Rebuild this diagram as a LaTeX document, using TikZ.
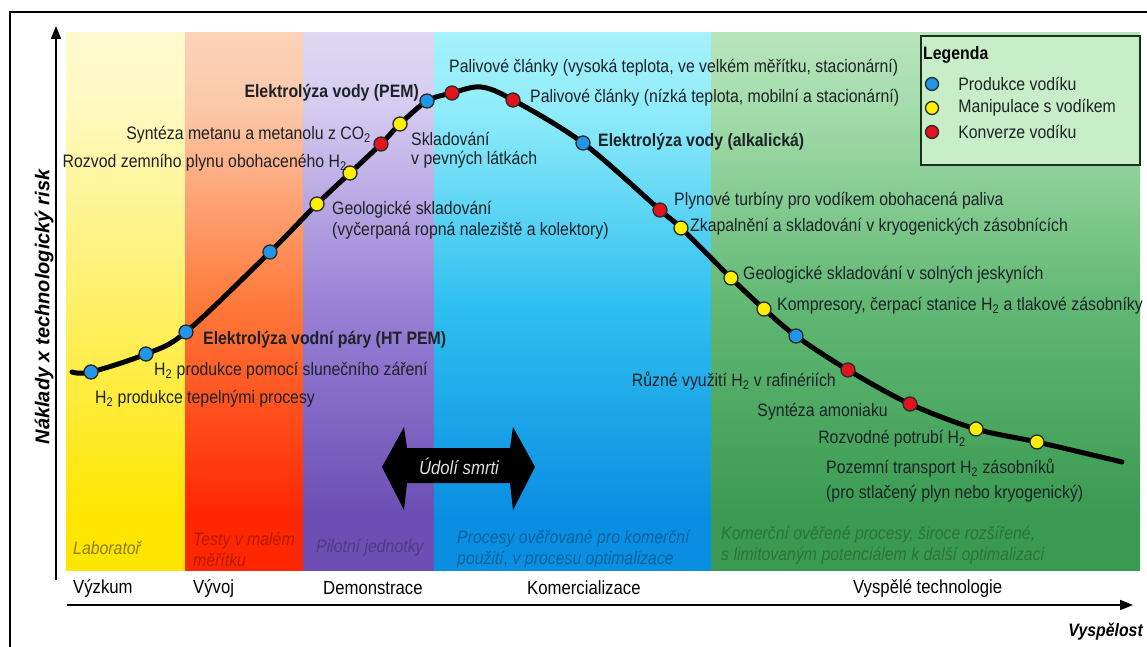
\documentclass[tikz,border=0pt]{standalone}
\usepackage{fontspec}
\setmainfont{Liberation Sans}[FakeStretch=0.88]
\newfontfamily\osafont{Liberation Sans}
\usepackage{tikz}
\usetikzlibrary{positioning,calc,arrows.meta}

\definecolor{txt}{HTML}{1C2226}
\definecolor{tmava}{HTML}{2A2A2A}
\definecolor{modra}{HTML}{2196E8}
\definecolor{zluta}{HTML}{FFF000}
\definecolor{cervena}{HTML}{E0141E}
\definecolor{legpozadi}{HTML}{C8EEC8}
\definecolor{legramec}{HTML}{1A301A}
% pasma (dole -> nahore)
\definecolor{zlA}{HTML}{FFE600}\definecolor{zlB}{HTML}{FFF06A}\definecolor{zlC}{HTML}{FFF9C0}\definecolor{zlD}{HTML}{FFFDE6}
\definecolor{orA}{HTML}{FF2600}\definecolor{orB}{HTML}{FF7A3C}\definecolor{orC}{HTML}{FCC8A8}\definecolor{orD}{HTML}{FCE2D0}
\definecolor{fiA}{HTML}{6C4EB4}\definecolor{fiB}{HTML}{9A82D6}\definecolor{fiC}{HTML}{D4CBF0}\definecolor{fiD}{HTML}{EEEAF9}
\definecolor{moA}{HTML}{0A8EE2}\definecolor{moB}{HTML}{30C0F0}\definecolor{moC}{HTML}{90ECFA}\definecolor{moD}{HTML}{C4FAFA}
\definecolor{zeA}{HTML}{3A9A52}\definecolor{zeB}{HTML}{62B874}\definecolor{zeC}{HTML}{A4DCAC}\definecolor{zeD}{HTML}{D4F2D4}
\pgfdeclareverticalshading{pasmoZl}{100bp}{color(0bp)=(zlA); color(30bp)=(zlA); color(50bp)=(zlB); color(68bp)=(zlC); color(85bp)=(zlD); color(100bp)=(zlD)}
\pgfdeclareverticalshading{pasmoOr}{100bp}{color(0bp)=(orA); color(30bp)=(orA); color(50bp)=(orB); color(68bp)=(orC); color(85bp)=(orD); color(100bp)=(orD)}
\pgfdeclareverticalshading{pasmoFi}{100bp}{color(0bp)=(fiA); color(30bp)=(fiA); color(50bp)=(fiB); color(68bp)=(fiC); color(85bp)=(fiD); color(100bp)=(fiD)}
\pgfdeclareverticalshading{pasmoMo}{100bp}{color(0bp)=(moA); color(30bp)=(moA); color(50bp)=(moB); color(68bp)=(moC); color(85bp)=(moD); color(100bp)=(moD)}
\pgfdeclareverticalshading{pasmoZe}{100bp}{color(0bp)=(zeA); color(30bp)=(zeA); color(50bp)=(zeB); color(68bp)=(zeC); color(85bp)=(zeD); color(100bp)=(zeD)}

\begin{document}
\begin{tikzpicture}[x=1pt, y=-1pt,
    every node/.style={font=\fontsize{18}{20}\selectfont, text=txt, inner sep=0pt},
    popis/.style={anchor=west, align=left},
    tucne/.style={anchor=west, font=\fontsize{18}{20}\selectfont\bfseries},
    faze/.style={anchor=west, font=\fontsize{19}{21}\selectfont, text=black},
    kurziva/.style={anchor=west, align=left, font=\fontsize{18}{21}\selectfont\itshape},
    tecka/.style={circle, draw=tmava, line width=1.3pt, minimum size=14pt},
    prod/.style={tecka, fill=modra},
    manip/.style={tecka, fill=zluta},
    konv/.style={tecka, fill=cervena},
    krivka/.style={line width=5pt, line cap=round},
    osa/.style={line width=2pt, -{Triangle[length=13pt, width=10pt]}}
]
\useasboundingbox (0,0) rectangle (1147,647);
\fill[white] (0,0) rectangle (1147,647);
\draw[line width=2pt] (10,660) -- (10,12) -- (1160,12);

% pasma vyspelosti
\shade[shading=pasmoZl] (66,33) rectangle (185,570);
\shade[shading=pasmoOr] (185,33) rectangle (303,570);
\shade[shading=pasmoFi] (303,33) rectangle (434,570);
\shade[shading=pasmoMo] (434,33) rectangle (711,570);
\shade[shading=pasmoZe] (711,33) rectangle (1140,570);

\node[kurziva, text=zlA!55!black] (lab) at (73,548) {Laboratoř};
\node[kurziva, text=orA!70!black] (testy) at (193,549) {Testy v malém\\měřítku};
\node[kurziva, text=fiA!75!black] (pilot) at (316,548) {Pilotní jednotky};
\node[kurziva, text=moA!70!black] (procesy) at (457,549) {Procesy ověřované pro komerční\\použití, v procesu optimalizace};
\node[kurziva, text=zeA!75!black] (komer) at (721,545) {Komerční ověřené procesy, široce rozšířené,\\s limitovaným potenciálem k další optimalizaci};

% osy
\coordinate (y0) at (56,580);
\coordinate (y1) at (56,26);
\coordinate (x0) at (67,605);
\coordinate (x1) at (1133,605);
\draw[osa] (y0) -- (y1);
\draw[osa] (x0) -- (x1);
\node[rotate=90, font=\osafont\fontsize{20}{22}\selectfont\bfseries\itshape, text=black] (osay) at (44,307) {Náklady x technologický risk};
\node[anchor=east, font=\fontsize{18}{20}\selectfont\bfseries\itshape, text=black] (osax) at (1143,632) {Vyspělost};

\node[faze] (vyzkum) at (73,588) {Výzkum};
\node[faze] (vyvoj) at (193,588) {Vývoj};
\node[faze] (demo) at (323,588) {Demonstrace};
\node[faze] (komerc) at (527,588) {Komercializace};
\node[faze] (vysp) at (853,588) {Vyspělé technologie};

% udoli smrti
\fill[black] (382,467) -- (404,427) -- (407,448) -- (510,448) -- (513,427) -- (535,467)
    -- (513,510) -- (510,483) -- (407,483) -- (404,510) -- cycle;
\node[font=\fontsize{19}{21}\selectfont\itshape, text=white!88!black] (udoli) at (459,466) {Údolí smrti};

% krivka
\foreach \n/\x/\y in {c0/72/372, b1/91/372, b2/146/354, b3/186/332, b4/270/252, y1/317/204,
    y2/350/173, r1/381/144, y3/400/124, b5/427/101, r2/452/93, vrchol/481/87, r3/513/100,
    b6/583/143, r4/660/210, y4/681/228, y5/731/278, y6/764/309, b7/796/336, r5/848/370,
    r6/910/404, y7/976/429, y8/1037/442, c1/1122/462}
    \coordinate (\n) at (\x,\y);
\draw[krivka] plot[smooth, tension=0.55] coordinates {(c0) (b1) (b2) (b3) (b4) (y1) (y2) (r1) (y3)
    (b5) (r2) (vrchol) (r3) (b6) (r4) (y4) (y5) (y6) (b7) (r5) (r6) (y7) (y8) (c1)};
\foreach \n in {b1,b2,b3,b4,b5,b6,b7} \node[prod] (t\n) at (\n) {};
\foreach \n in {y1,y2,y3,y4,y5,y6,y7,y8} \node[manip] (t\n) at (\n) {};
\foreach \n in {r1,r2,r3,r4,r5,r6} \node[konv] (t\n) at (\n) {};

% popisky
\node[popis] (pal1) at (449,68) {Palivové články (vysoká teplota, ve velkém měřítku, stacionární)};
\node[popis] (pal2) at (530,98) {Palivové články (nízká teplota, mobilní a stacionární)};
\node[tucne, anchor=east] (pem) at (419,93) {Elektrolýza vody (PEM)};
\node[tucne] (alk) at (598,142) {Elektrolýza vody (alkalická)};
\node[popis, font=\fontsize{18}{19.5}\selectfont] (skl) at (411,150) {Skladování\\v pevných látkách};
\node[popis, anchor=east] (synt) at (371,135) {Syntéza metanu a metanolu z CO\textsubscript{2}};
\node[popis, anchor=east] (rozv) at (347,163) {Rozvod zemního plynu obohaceného H\textsubscript{2}};
\node[popis, font=\fontsize{18}{21}\selectfont] (geo) at (332,220) {Geologické skladování\\(vyčerpaná ropná naleziště a kolektory)};
\node[tucne] (htpem) at (203,340) {Elektrolýza vodní páry (HT PEM)};
\node[popis] (slun) at (154,371) {H\textsubscript{2} produkce pomocí slunečního záření};
\node[popis] (tep) at (95,399) {H\textsubscript{2} produkce tepelnými procesy};
\node[popis] (turb) at (674,201) {Plynové turbíny pro vodíkem obohacená paliva};
\node[popis] (zkap) at (690,227) {Zkapalnění a skladování v kryogenických zásobnících};
\node[popis] (geo2) at (743,275) {Geologické skladování v solných jeskyních};
\node[popis] (komp) at (777,306) {Kompresory, čerpací stanice H\textsubscript{2} a tlakové zásobníky};
\node[popis, anchor=east] (rafi) at (836,381) {Různé využití H\textsubscript{2} v rafinériích};
\node[popis, anchor=east] (amon) at (888,412) {Syntéza amoniaku};
\node[popis, anchor=east] (potr) at (966,439) {Rozvodné potrubí H\textsubscript{2}};
\node[popis, font=\fontsize{18}{25}\selectfont] (poz) at (826,481) {Pozemní transport H\textsubscript{2} zásobníků\\(pro stlačený plyn nebo kryogenický)};

% legenda
\node[draw=legramec, line width=2pt, fill=legpozadi, minimum width=219pt, minimum height=129pt, anchor=north west] (legenda) at (920,35) {};
\node[anchor=west, font=\fontsize{18}{20}\selectfont\bfseries, text=black] (legtit) at (923,55) {Legenda};
\node[prod, minimum size=13pt] (lp) at (932,84) {};
\node[manip, minimum size=13pt] (lm) at (932,108) {};
\node[konv, minimum size=13pt] (lk) at (932,132) {};
\node[popis, right=19pt of lp] (lptxt) {Produkce vodíku};
\node[popis, right=19pt of lm] (lmtxt) {Manipulace s vodíkem};
\node[popis, right=19pt of lk] (lktxt) {Konverze vodíku};
\end{tikzpicture}
\end{document}
